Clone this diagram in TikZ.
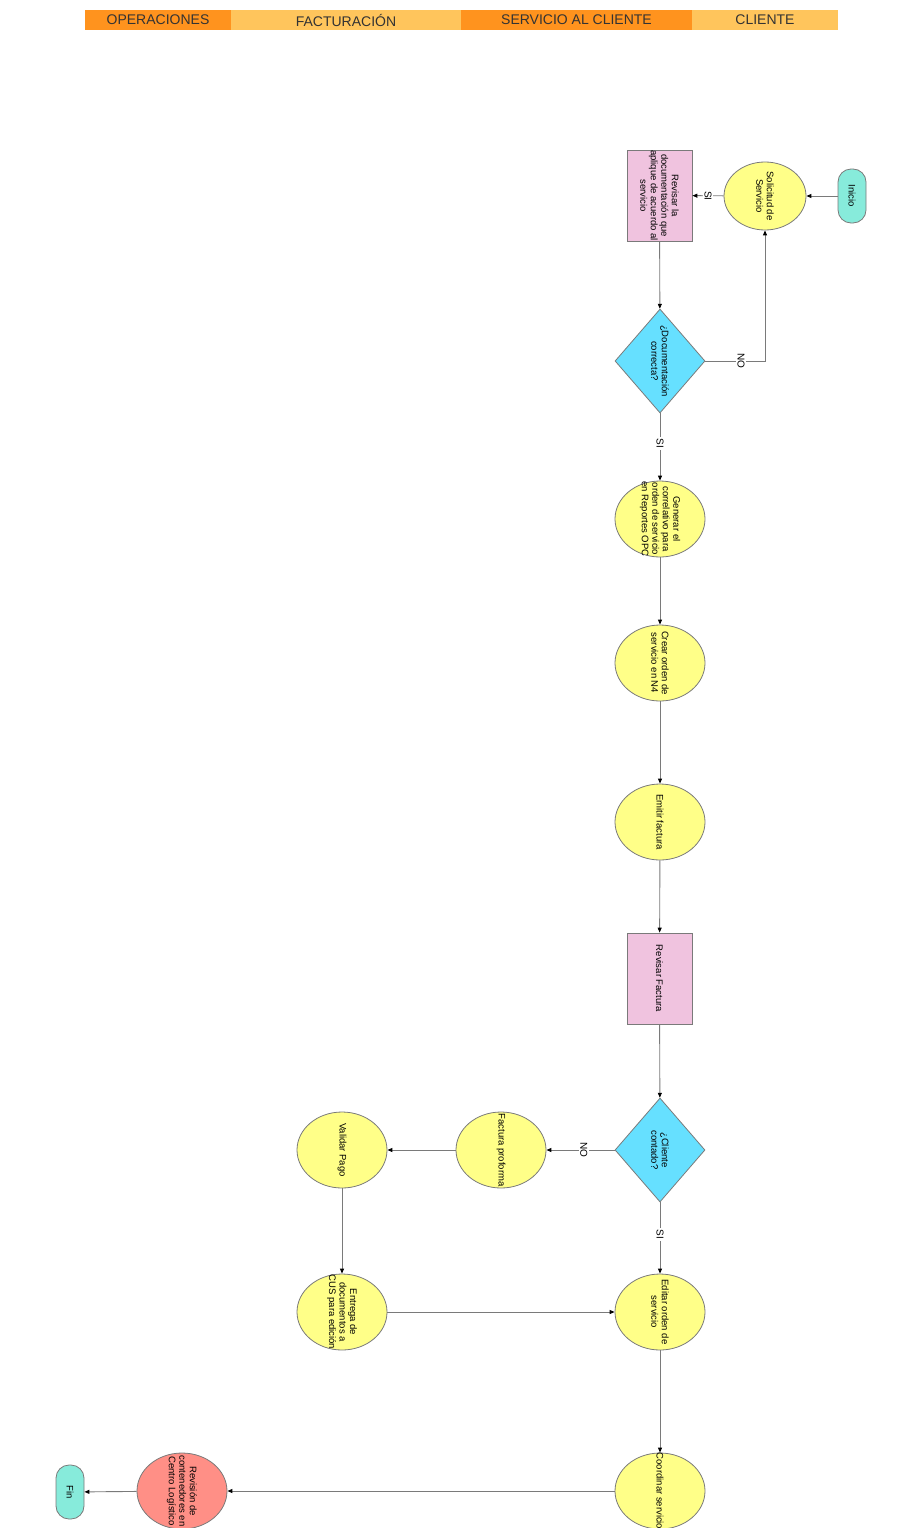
\documentclass[tikz,border=0pt]{standalone}
\usepackage{fontspec}
\setmainfont{Liberation Sans}
\usetikzlibrary{shapes.geometric,arrows.meta}
\definecolor{hdark}{HTML}{FF931E}
\definecolor{hlight}{HTML}{FFC55C}
\definecolor{cyel}{HTML}{FFFF88}
\definecolor{cpink}{HTML}{F0C3DF}
\definecolor{ccyan}{HTML}{66E0FF}
\definecolor{cteal}{HTML}{87EBDB}
\definecolor{csal}{HTML}{FF8F86}
\definecolor{cborder}{HTML}{7A7A7A}
\definecolor{cline}{HTML}{7A7A7A}
\definecolor{ctext}{HTML}{333333}
\tikzset{
  hdr/.style={minimum height=20, inner sep=0, font=\fontsize{14}{14}\selectfont, text=ctext},
  txt/.style={rotate=-90, align=center, font=\fontsize{9.5}{10.5}\selectfont, inner sep=0},
  ell/.style={ellipse, draw=cborder, line width=0.8, fill=cyel, minimum width=90, minimum height=76, inner sep=0},
  box/.style={rectangle, draw=cborder, line width=0.8, fill=cpink, minimum width=65, minimum height=91, inner sep=0},
  dec/.style={diamond, draw=cborder, line width=0.8, fill=ccyan, minimum width=90, minimum height=104, inner sep=0},
  term/.style={rectangle, rounded corners=13, draw=cborder, line width=0.8, fill=cteal, minimum width=28, minimum height=54, inner sep=0},
  flow/.style={draw=cline, line width=0.9, -{Triangle[length=5pt,width=4pt,color=black]}},
  elab/.style={fill=white, rotate=-90, font=\fontsize{10}{11}\selectfont, inner sep=1.5},
}
\begin{document}
\begin{tikzpicture}[x=1pt,y=-1pt]
\useasboundingbox (0,0) rectangle (899,1528);
% header
\node[hdr, fill=hdark, minimum width=146] (h1) at (158,20) {OPERACIONES};
\node[hdr, fill=hlight, minimum width=230] (h2) at (346,20) {FACTURACIÓN};
\node[hdr, fill=hdark, minimum width=231] (h3) at (576.5,20) {SERVICIO AL CLIENTE};
\node[hdr, fill=hlight, minimum width=146] (h4) at (765,20) {CLIENTE};
% nodes
\node[term, label={[txt]center:Inicio}] (ini) at (852,196) {};
\node[ell, minimum width=82, minimum height=68, label={[txt]center:{Solicitud de\\Servicio}}] (sol) at (765,196) {};
\node[box, label={[txt]center:{Revisar la\\documentación que\\aplique de acuerdo al\\servicio}}] (rev) at (659.5,195.5) {};
\node[dec, label={[txt]center:{¿Documentación\\correcta?}}] (d1) at (660,361) {};
\node[ell, label={[txt]center:{Generar el\\correlativo para\\orden de servicio\\en Reportes OPC}}] (gen) at (660,519) {};
\node[ell, label={[txt]center:{Crear orden de\\servicio en N4}}] (cre) at (660,663) {};
\node[ell, label={[txt]center:{Emitir factura}}] (emi) at (660,822) {};
\node[box, label={[txt]center:{Revisar Factura}}] (rfa) at (659.5,978.5) {};
\node[dec, label={[txt]center:{¿Cliente\\contado?}}] (d2) at (660,1150) {};
\node[ell, label={[txt]center:{Factura proforma}}] (pro) at (501,1150) {};
\node[ell, label={[txt]center:{Validar Pago}}] (val) at (342,1150) {};
\node[ell, label={[txt]center:{Entrega de\\documentos a\\CUS para edición}}] (ent) at (342,1312) {};
\node[ell, label={[txt]center:{Editar orden de\\servicio}}] (edi) at (660,1312) {};
\node[ell, label={[txt]center:{Coordinar servicio}}] (coo) at (660,1491) {};
\node[ell, fill=csal, label={[txt]center:{Revisión de\\contenedores en\\Centro Logístico}}] (rcl) at (182,1491) {};
\node[term, label={[txt]center:Fin}] (fin) at (70,1492) {};
% connectors
\draw[flow] (ini) -- (sol);
\draw[flow] (sol) -- node[elab]{SI} (rev);
\draw[flow] (rev) -- (d1);
\draw[flow] (d1) -| node[elab, pos=0.3]{NO} (sol);
\draw[flow] (d1) -- node[elab, pos=0.45]{SI} (gen);
\draw[flow] (gen) -- (cre);
\draw[flow] (cre) -- (emi);
\draw[flow] (emi) -- (rfa);
\draw[flow] (rfa) -- (d2);
\draw[flow] (d2) -- node[elab, pos=0.45]{NO} (pro);
\draw[flow] (pro) -- (val);
\draw[flow] (val) -- (ent);
\draw[flow] (ent) -- (edi);
\draw[flow] (d2) -- node[elab, pos=0.45]{SI} (edi);
\draw[flow] (edi) -- (coo);
\draw[flow] (coo) -- (rcl);
\draw[flow] (rcl) -- (fin);
\end{tikzpicture}
\end{document}
